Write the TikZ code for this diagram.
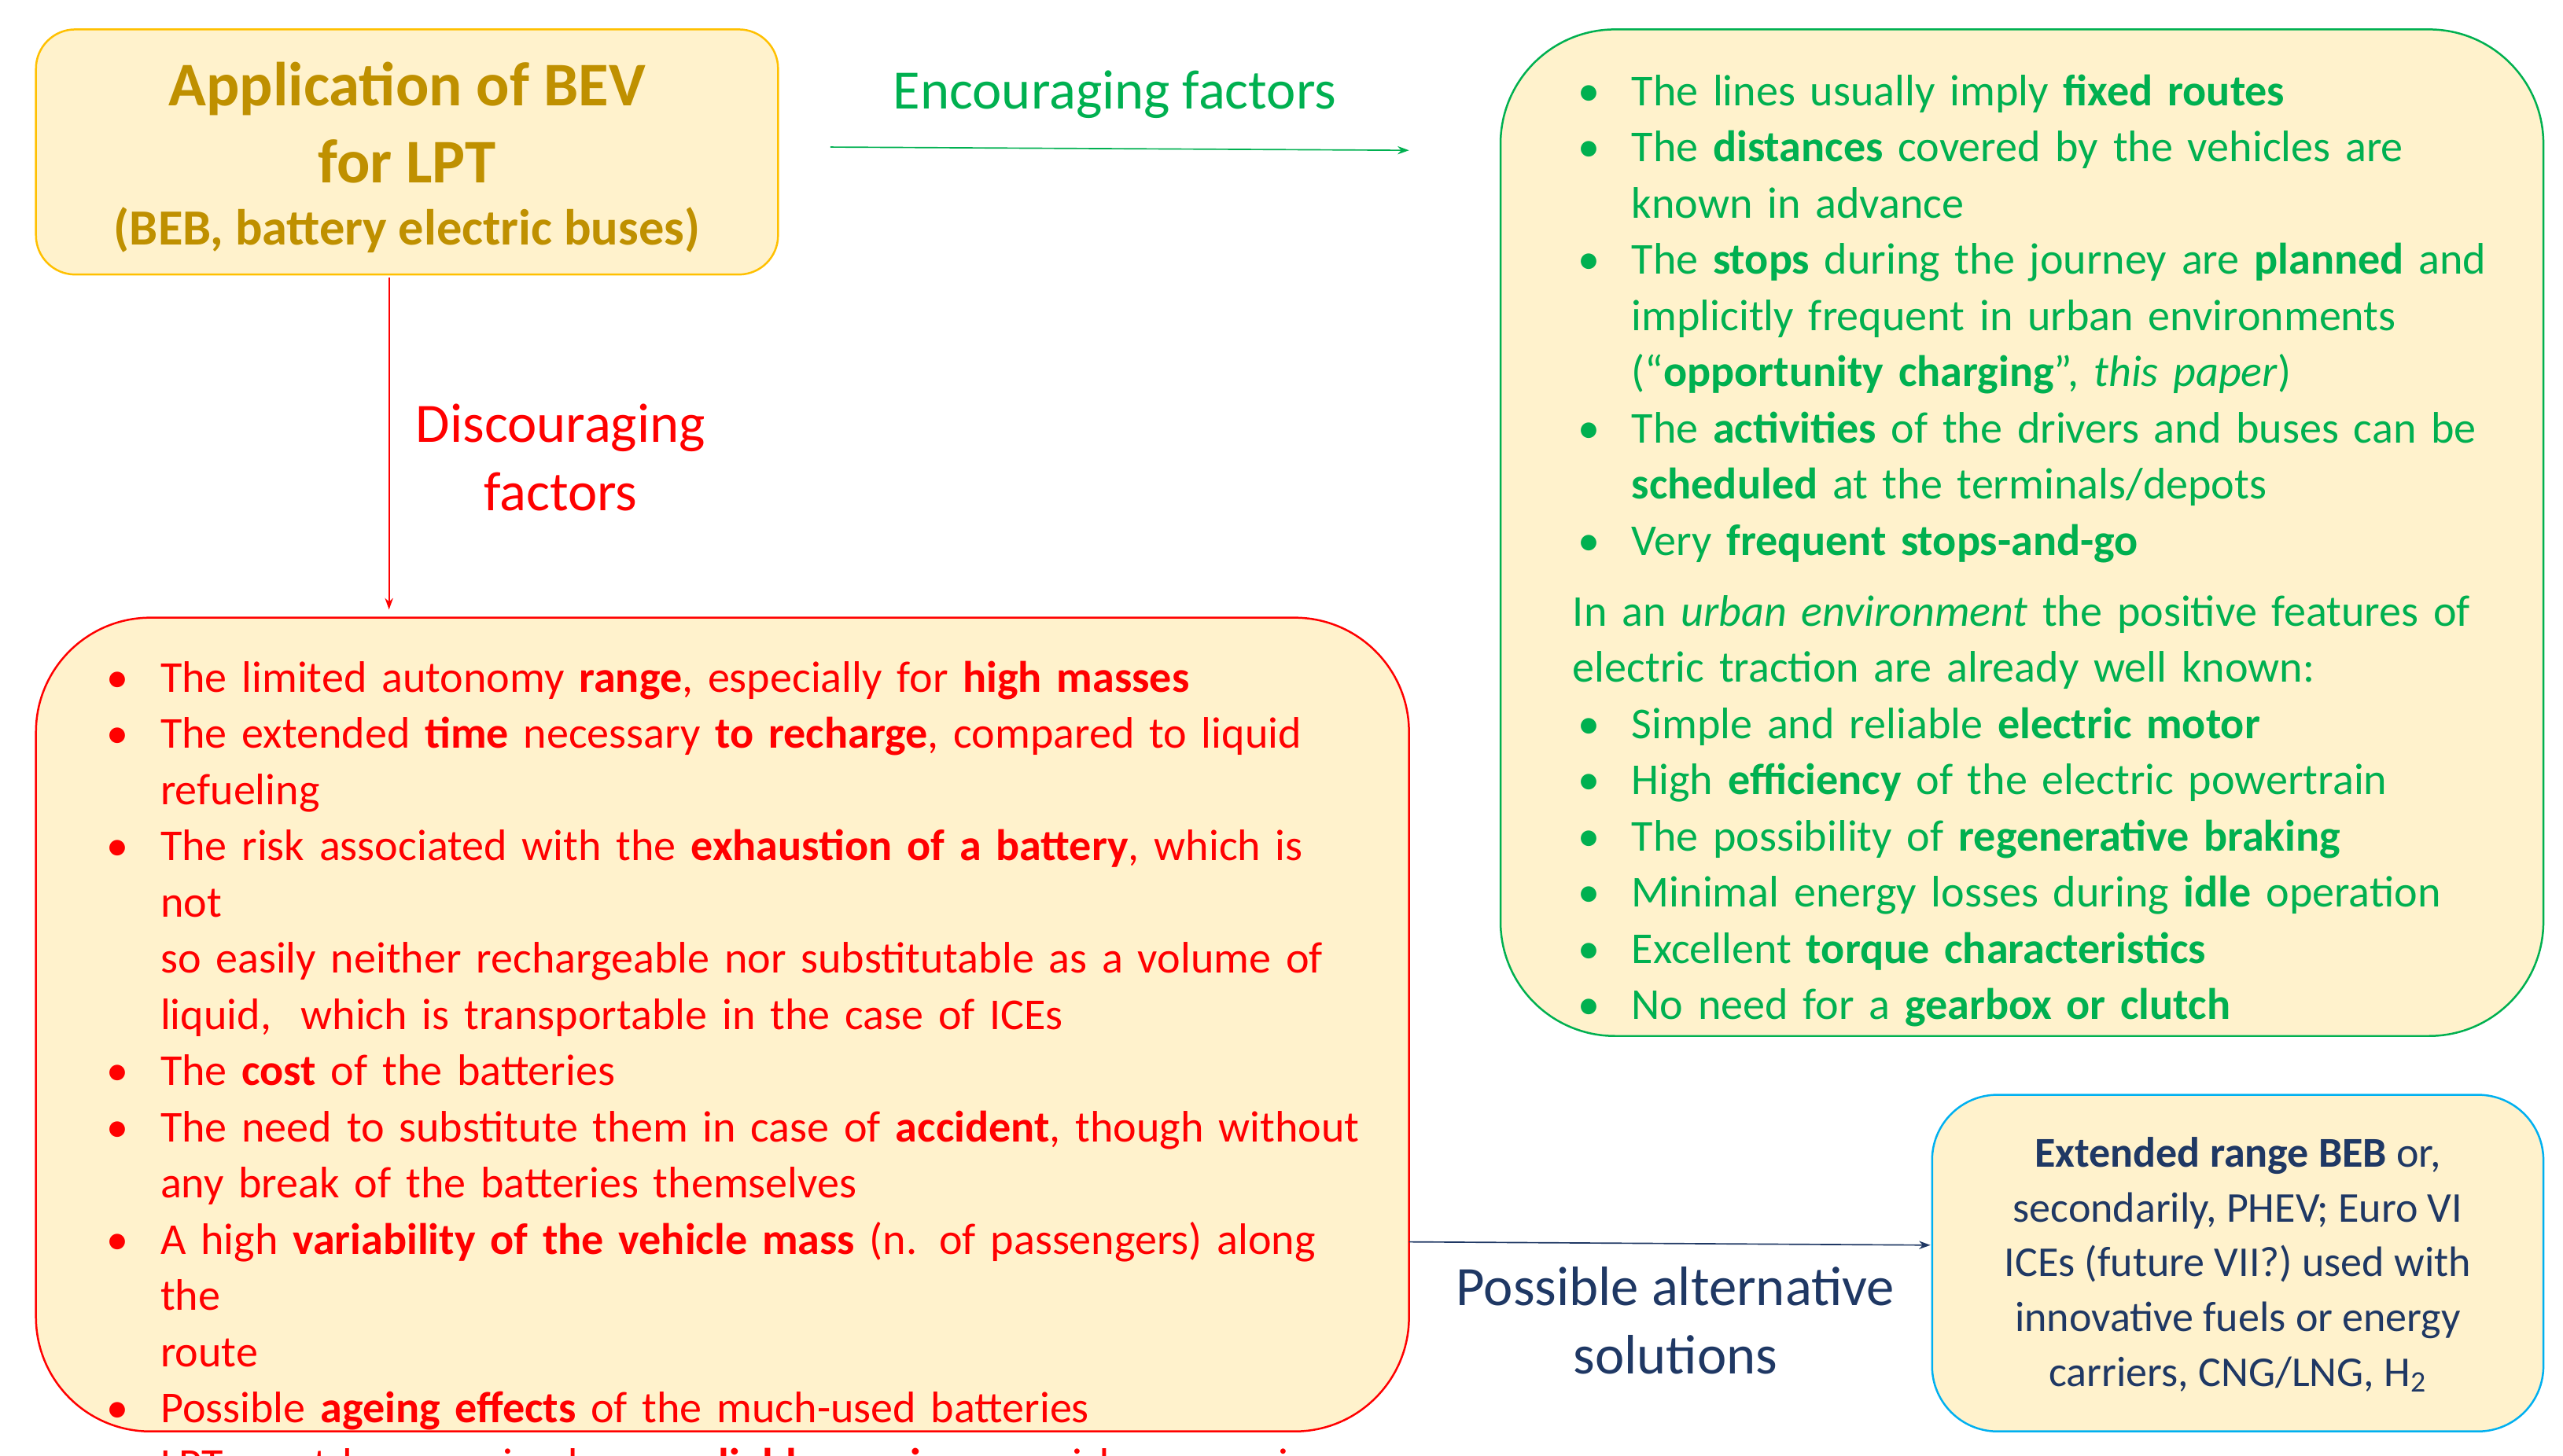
\documentclass[tikz,border=0pt]{standalone}
\usepackage{fontspec}
\setmainfont{Carlito}
\usetikzlibrary{arrows.meta}
\definecolor{boxfill}{HTML}{FFF2CC}
\definecolor{goldline}{HTML}{FFC000}
\definecolor{goldtext}{HTML}{BF9000}
\definecolor{grn}{HTML}{00B050}
\definecolor{redc}{HTML}{FF0000}
\definecolor{bluel}{HTML}{00B0F0}
\definecolor{navy}{HTML}{1F3864}
\newcommand{\bitem}[1]{\par\noindent\hangindent=36pt\hangafter=1\makebox[36pt][l]{\hspace{3pt}•}#1}
\tikzset{
  panel/.style={line width=1.2pt, fill=boxfill, rounded corners=#1},
  arr/.style={-{Stealth[length=7pt,width=5pt]}, line width=0.8pt},
  lab/.style={font=\fontsize{34}{42}\selectfont, align=center},
  body/.style={inner sep=0pt, anchor=north west, align=left, font=\fontsize{27}{34.4}\selectfont}
}
\begin{document}
\begin{tikzpicture}[x=1pt,y=1pt]
\useasboundingbox (0,0) rectangle (1568,-891);
% boxes
\draw[panel=24pt, draw=goldline] (22,-18) rectangle (476,-168);
\draw[panel=70pt, draw=grn] (918,-18) rectangle (1556,-634);
\draw[panel=70pt, draw=redc] (22,-378) rectangle (862,-876);
\draw[panel=40pt, draw=bluel] (1182,-670) rectangle (1556,-876);
% title
\node[align=center, text=goldtext, font=\bfseries\fontsize{38}{47}\selectfont] (title) at (249,-75)
 {Application of BEV\\ for LPT};
\node[text=goldtext, font=\bfseries\fontsize{31}{36}\selectfont] (title2) at (249,-141)
 {(BEB, battery electric buses)};
% green text
\node[body, text=grn, text width=590pt] (grt) at (962,-30) {\raggedright%
\bitem{The lines usually imply \textbf{fixed routes}}%
\bitem{The \textbf{distances} covered by the vehicles are\newline known in advance}%
\bitem{The \textbf{stops} during the journey are \textbf{planned} and\newline implicitly frequent in urban environments\newline (“\textbf{opportunity charging}”, \textit{this paper})}%
\bitem{The \textbf{activities} of the drivers and buses can be\newline \textbf{scheduled} at the terminals/depots}%
\bitem{Very \textbf{frequent stops-and-go}}%
\par\vspace{9pt}\noindent In an \textit{urban environment} the positive features of\newline electric traction are already well known:%
\bitem{Simple and reliable \textbf{electric motor}}%
\bitem{High \textbf{efficiency} of the electric powertrain}%
\bitem{The possibility of \textbf{regenerative braking}}%
\bitem{Minimal energy losses during \textbf{idle} operation}%
\bitem{Excellent \textbf{torque characteristics}}%
\bitem{No need for a \textbf{gearbox or clutch}}\par};
% red text
\node[body, text=redc, text width=770pt] (rdt) at (62,-389) {%
\bitem{The limited autonomy \textbf{range}, especially for \textbf{high masses}}%
\bitem{The extended \textbf{time} necessary \textbf{to recharge}, compared to liquid\linebreak refueling}%
\bitem{The risk associated with the \textbf{exhaustion of a battery}, which is not\linebreak so easily neither rechargeable nor substitutable as a volume of\linebreak liquid,\ \ which is transportable in the case of ICEs}%
\bitem{The \textbf{cost} of the batteries}%
\bitem{The need to substitute them in case of \textbf{accident}, though without\linebreak any break of the batteries themselves}%
\bitem{A high \textbf{variability of the vehicle mass} (n. of passengers) along the\linebreak route}%
\bitem{Possible \textbf{ageing effects} of the much-used batteries}%
\bitem{LPT must be perceived as a \textbf{reliable service}: no risks may arise,\newline which means no nearly-empty SOC (state of charge) is allowed.}\par};
% blue text
\node[align=center, text=navy, font=\fontsize{26}{33.5}\selectfont] (blt) at (1369,-774)
 {\textbf{Extended range BEB} or,\\ secondarily, PHEV; Euro VI\\ ICEs (future VII?) used with\\ innovative fuels or energy\\ carriers, CNG/LNG, H\textsubscript{2}};
% arrows
\coordinate (g1) at (508,-90); \coordinate (g2) at (862,-92);
\draw[arr, grn] (g1) -- (g2);
\node[lab, text=grn] (glab) at (682,-58) {Encouraging factors};
\coordinate (r1) at (238,-170); \coordinate (r2) at (238,-373);
\draw[arr, redc] (r1) -- (r2);
\node[lab, text=redc] (rlab) at (343,-280) {Discouraging\\ factors};
\coordinate (b1) at (862,-760); \coordinate (b2) at (1181,-762);
\draw[arr, navy] (b1) -- (b2);
\node[lab, text=navy] (blab) at (1025,-808) {Possible alternative\\ solutions};
\end{tikzpicture}
\end{document}
